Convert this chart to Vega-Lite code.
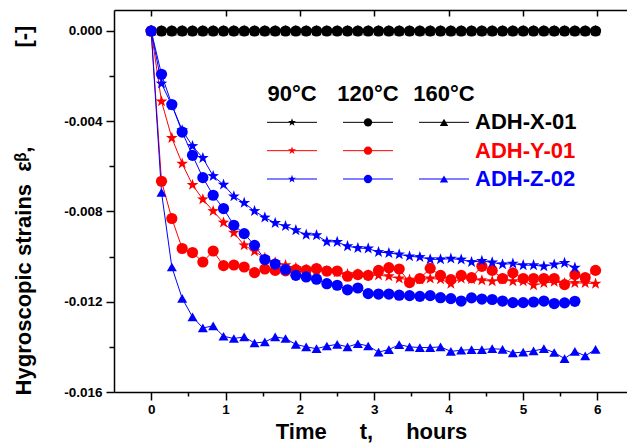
{
"$schema":"https://vega.github.io/schema/vega-lite/v6.json",
"width":513,"height":382,
"autosize":{"type":"none"},
"padding":{"left":114,"top":10,"right":0,"bottom":55},
"background":"white",
"config":{"view":{"stroke":null},"font":"Liberation Sans","axis":{"grid":false,"domainColor":"black","domainWidth":1.5,"tickColor":"black","tickWidth":1.5,"labelColor":"black","titleColor":"black","labelFont":"Liberation Sans","titleFont":"Liberation Sans","labelFontWeight":"bold","titleFontWeight":"bold","labelFontSize":13.5}},
"datasets":{"strain":[
{"t":0,"strain":0,"specimen":"ADH-X-01","temp":"90°C"},{"t":0.139,"strain":0,"specimen":"ADH-X-01","temp":"90°C"},{"t":0.278,"strain":0,"specimen":"ADH-X-01","temp":"90°C"},{"t":0.417,"strain":0,"specimen":"ADH-X-01","temp":"90°C"},{"t":0.556,"strain":0,"specimen":"ADH-X-01","temp":"90°C"},{"t":0.695,"strain":0,"specimen":"ADH-X-01","temp":"90°C"},{"t":0.834,"strain":0,"specimen":"ADH-X-01","temp":"90°C"},{"t":0.973,"strain":0,"specimen":"ADH-X-01","temp":"90°C"},{"t":1.112,"strain":0,"specimen":"ADH-X-01","temp":"90°C"},{"t":1.251,"strain":0,"specimen":"ADH-X-01","temp":"90°C"},{"t":1.39,"strain":0,"specimen":"ADH-X-01","temp":"90°C"},{"t":1.529,"strain":0,"specimen":"ADH-X-01","temp":"90°C"},{"t":1.668,"strain":0,"specimen":"ADH-X-01","temp":"90°C"},{"t":1.807,"strain":0,"specimen":"ADH-X-01","temp":"90°C"},{"t":1.946,"strain":0,"specimen":"ADH-X-01","temp":"90°C"},{"t":2.085,"strain":0,"specimen":"ADH-X-01","temp":"90°C"},{"t":2.224,"strain":0,"specimen":"ADH-X-01","temp":"90°C"},{"t":2.363,"strain":0,"specimen":"ADH-X-01","temp":"90°C"},{"t":2.502,"strain":0,"specimen":"ADH-X-01","temp":"90°C"},{"t":2.641,"strain":0,"specimen":"ADH-X-01","temp":"90°C"},{"t":2.78,"strain":0,"specimen":"ADH-X-01","temp":"90°C"},{"t":2.919,"strain":0,"specimen":"ADH-X-01","temp":"90°C"},{"t":3.058,"strain":0,"specimen":"ADH-X-01","temp":"90°C"},{"t":3.197,"strain":0,"specimen":"ADH-X-01","temp":"90°C"},{"t":3.336,"strain":0,"specimen":"ADH-X-01","temp":"90°C"},{"t":3.475,"strain":0,"specimen":"ADH-X-01","temp":"90°C"},{"t":3.614,"strain":0,"specimen":"ADH-X-01","temp":"90°C"},{"t":3.753,"strain":0,"specimen":"ADH-X-01","temp":"90°C"},{"t":3.892,"strain":0,"specimen":"ADH-X-01","temp":"90°C"},{"t":4.031,"strain":0,"specimen":"ADH-X-01","temp":"90°C"},{"t":4.17,"strain":0,"specimen":"ADH-X-01","temp":"90°C"},{"t":4.309,"strain":0,"specimen":"ADH-X-01","temp":"90°C"},{"t":4.448,"strain":0,"specimen":"ADH-X-01","temp":"90°C"},{"t":4.587,"strain":0,"specimen":"ADH-X-01","temp":"90°C"},{"t":4.726,"strain":0,"specimen":"ADH-X-01","temp":"90°C"},{"t":4.865,"strain":0,"specimen":"ADH-X-01","temp":"90°C"},{"t":5.004,"strain":0,"specimen":"ADH-X-01","temp":"90°C"},{"t":5.143,"strain":0,"specimen":"ADH-X-01","temp":"90°C"},{"t":5.282,"strain":0,"specimen":"ADH-X-01","temp":"90°C"},{"t":5.421,"strain":0,"specimen":"ADH-X-01","temp":"90°C"},{"t":5.56,"strain":0,"specimen":"ADH-X-01","temp":"90°C"},{"t":5.699,"strain":0,"specimen":"ADH-X-01","temp":"90°C"},{"t":5.838,"strain":0,"specimen":"ADH-X-01","temp":"90°C"},{"t":5.977,"strain":0,"specimen":"ADH-X-01","temp":"90°C"},
{"t":0,"strain":0,"specimen":"ADH-X-01","temp":"120°C"},{"t":0.139,"strain":0,"specimen":"ADH-X-01","temp":"120°C"},{"t":0.278,"strain":0,"specimen":"ADH-X-01","temp":"120°C"},{"t":0.417,"strain":0,"specimen":"ADH-X-01","temp":"120°C"},{"t":0.556,"strain":0,"specimen":"ADH-X-01","temp":"120°C"},{"t":0.695,"strain":0,"specimen":"ADH-X-01","temp":"120°C"},{"t":0.834,"strain":0,"specimen":"ADH-X-01","temp":"120°C"},{"t":0.973,"strain":0,"specimen":"ADH-X-01","temp":"120°C"},{"t":1.112,"strain":0,"specimen":"ADH-X-01","temp":"120°C"},{"t":1.251,"strain":0,"specimen":"ADH-X-01","temp":"120°C"},{"t":1.39,"strain":0,"specimen":"ADH-X-01","temp":"120°C"},{"t":1.529,"strain":0,"specimen":"ADH-X-01","temp":"120°C"},{"t":1.668,"strain":0,"specimen":"ADH-X-01","temp":"120°C"},{"t":1.807,"strain":0,"specimen":"ADH-X-01","temp":"120°C"},{"t":1.946,"strain":0,"specimen":"ADH-X-01","temp":"120°C"},{"t":2.085,"strain":0,"specimen":"ADH-X-01","temp":"120°C"},{"t":2.224,"strain":0,"specimen":"ADH-X-01","temp":"120°C"},{"t":2.363,"strain":0,"specimen":"ADH-X-01","temp":"120°C"},{"t":2.502,"strain":0,"specimen":"ADH-X-01","temp":"120°C"},{"t":2.641,"strain":0,"specimen":"ADH-X-01","temp":"120°C"},{"t":2.78,"strain":0,"specimen":"ADH-X-01","temp":"120°C"},{"t":2.919,"strain":0,"specimen":"ADH-X-01","temp":"120°C"},{"t":3.058,"strain":0,"specimen":"ADH-X-01","temp":"120°C"},{"t":3.197,"strain":0,"specimen":"ADH-X-01","temp":"120°C"},{"t":3.336,"strain":0,"specimen":"ADH-X-01","temp":"120°C"},{"t":3.475,"strain":0,"specimen":"ADH-X-01","temp":"120°C"},{"t":3.614,"strain":0,"specimen":"ADH-X-01","temp":"120°C"},{"t":3.753,"strain":0,"specimen":"ADH-X-01","temp":"120°C"},{"t":3.892,"strain":0,"specimen":"ADH-X-01","temp":"120°C"},{"t":4.031,"strain":0,"specimen":"ADH-X-01","temp":"120°C"},{"t":4.17,"strain":0,"specimen":"ADH-X-01","temp":"120°C"},{"t":4.309,"strain":0,"specimen":"ADH-X-01","temp":"120°C"},{"t":4.448,"strain":0,"specimen":"ADH-X-01","temp":"120°C"},{"t":4.587,"strain":0,"specimen":"ADH-X-01","temp":"120°C"},{"t":4.726,"strain":0,"specimen":"ADH-X-01","temp":"120°C"},{"t":4.865,"strain":0,"specimen":"ADH-X-01","temp":"120°C"},{"t":5.004,"strain":0,"specimen":"ADH-X-01","temp":"120°C"},{"t":5.143,"strain":0,"specimen":"ADH-X-01","temp":"120°C"},{"t":5.282,"strain":0,"specimen":"ADH-X-01","temp":"120°C"},{"t":5.421,"strain":0,"specimen":"ADH-X-01","temp":"120°C"},{"t":5.56,"strain":0,"specimen":"ADH-X-01","temp":"120°C"},{"t":5.699,"strain":0,"specimen":"ADH-X-01","temp":"120°C"},{"t":5.838,"strain":0,"specimen":"ADH-X-01","temp":"120°C"},{"t":5.977,"strain":0,"specimen":"ADH-X-01","temp":"120°C"},
{"t":0,"strain":0,"specimen":"ADH-X-01","temp":"160°C"},{"t":0.139,"strain":0,"specimen":"ADH-X-01","temp":"160°C"},{"t":0.278,"strain":0,"specimen":"ADH-X-01","temp":"160°C"},{"t":0.417,"strain":0,"specimen":"ADH-X-01","temp":"160°C"},{"t":0.556,"strain":0,"specimen":"ADH-X-01","temp":"160°C"},{"t":0.695,"strain":0,"specimen":"ADH-X-01","temp":"160°C"},{"t":0.834,"strain":0,"specimen":"ADH-X-01","temp":"160°C"},{"t":0.973,"strain":0,"specimen":"ADH-X-01","temp":"160°C"},{"t":1.112,"strain":0,"specimen":"ADH-X-01","temp":"160°C"},{"t":1.251,"strain":0,"specimen":"ADH-X-01","temp":"160°C"},{"t":1.39,"strain":0,"specimen":"ADH-X-01","temp":"160°C"},{"t":1.529,"strain":0,"specimen":"ADH-X-01","temp":"160°C"},{"t":1.668,"strain":0,"specimen":"ADH-X-01","temp":"160°C"},{"t":1.807,"strain":0,"specimen":"ADH-X-01","temp":"160°C"},{"t":1.946,"strain":0,"specimen":"ADH-X-01","temp":"160°C"},{"t":2.085,"strain":0,"specimen":"ADH-X-01","temp":"160°C"},{"t":2.224,"strain":0,"specimen":"ADH-X-01","temp":"160°C"},{"t":2.363,"strain":0,"specimen":"ADH-X-01","temp":"160°C"},{"t":2.502,"strain":0,"specimen":"ADH-X-01","temp":"160°C"},{"t":2.641,"strain":0,"specimen":"ADH-X-01","temp":"160°C"},{"t":2.78,"strain":0,"specimen":"ADH-X-01","temp":"160°C"},{"t":2.919,"strain":0,"specimen":"ADH-X-01","temp":"160°C"},{"t":3.058,"strain":0,"specimen":"ADH-X-01","temp":"160°C"},{"t":3.197,"strain":0,"specimen":"ADH-X-01","temp":"160°C"},{"t":3.336,"strain":0,"specimen":"ADH-X-01","temp":"160°C"},{"t":3.475,"strain":0,"specimen":"ADH-X-01","temp":"160°C"},{"t":3.614,"strain":0,"specimen":"ADH-X-01","temp":"160°C"},{"t":3.753,"strain":0,"specimen":"ADH-X-01","temp":"160°C"},{"t":3.892,"strain":0,"specimen":"ADH-X-01","temp":"160°C"},{"t":4.031,"strain":0,"specimen":"ADH-X-01","temp":"160°C"},{"t":4.17,"strain":0,"specimen":"ADH-X-01","temp":"160°C"},{"t":4.309,"strain":0,"specimen":"ADH-X-01","temp":"160°C"},{"t":4.448,"strain":0,"specimen":"ADH-X-01","temp":"160°C"},{"t":4.587,"strain":0,"specimen":"ADH-X-01","temp":"160°C"},{"t":4.726,"strain":0,"specimen":"ADH-X-01","temp":"160°C"},{"t":4.865,"strain":0,"specimen":"ADH-X-01","temp":"160°C"},{"t":5.004,"strain":0,"specimen":"ADH-X-01","temp":"160°C"},{"t":5.143,"strain":0,"specimen":"ADH-X-01","temp":"160°C"},{"t":5.282,"strain":0,"specimen":"ADH-X-01","temp":"160°C"},{"t":5.421,"strain":0,"specimen":"ADH-X-01","temp":"160°C"},{"t":5.56,"strain":0,"specimen":"ADH-X-01","temp":"160°C"},{"t":5.699,"strain":0,"specimen":"ADH-X-01","temp":"160°C"},{"t":5.838,"strain":0,"specimen":"ADH-X-01","temp":"160°C"},{"t":5.977,"strain":0,"specimen":"ADH-X-01","temp":"160°C"},
{"t":0,"strain":0,"specimen":"ADH-Y-01","temp":"90°C"},{"t":0.139,"strain":-0.00312,"specimen":"ADH-Y-01","temp":"90°C"},{"t":0.278,"strain":-0.00474,"specimen":"ADH-Y-01","temp":"90°C"},{"t":0.417,"strain":-0.00588,"specimen":"ADH-Y-01","temp":"90°C"},{"t":0.556,"strain":-0.00682,"specimen":"ADH-Y-01","temp":"90°C"},{"t":0.695,"strain":-0.00746,"specimen":"ADH-Y-01","temp":"90°C"},{"t":0.834,"strain":-0.00798,"specimen":"ADH-Y-01","temp":"90°C"},{"t":0.973,"strain":-0.00849,"specimen":"ADH-Y-01","temp":"90°C"},{"t":1.112,"strain":-0.00894,"specimen":"ADH-Y-01","temp":"90°C"},{"t":1.251,"strain":-0.0095,"specimen":"ADH-Y-01","temp":"90°C"},{"t":1.39,"strain":-0.00976,"specimen":"ADH-Y-01","temp":"90°C"},{"t":1.529,"strain":-0.01006,"specimen":"ADH-Y-01","temp":"90°C"},{"t":1.668,"strain":-0.01025,"specimen":"ADH-Y-01","temp":"90°C"},{"t":1.807,"strain":-0.01038,"specimen":"ADH-Y-01","temp":"90°C"},{"t":1.946,"strain":-0.0105,"specimen":"ADH-Y-01","temp":"90°C"},{"t":2.085,"strain":-0.01058,"specimen":"ADH-Y-01","temp":"90°C"},{"t":2.224,"strain":-0.0106,"specimen":"ADH-Y-01","temp":"90°C"},{"t":2.363,"strain":-0.01065,"specimen":"ADH-Y-01","temp":"90°C"},{"t":2.502,"strain":-0.0107,"specimen":"ADH-Y-01","temp":"90°C"},{"t":2.641,"strain":-0.01078,"specimen":"ADH-Y-01","temp":"90°C"},{"t":2.78,"strain":-0.01078,"specimen":"ADH-Y-01","temp":"90°C"},{"t":2.919,"strain":-0.01083,"specimen":"ADH-Y-01","temp":"90°C"},{"t":3.058,"strain":-0.01083,"specimen":"ADH-Y-01","temp":"90°C"},{"t":3.197,"strain":-0.01087,"specimen":"ADH-Y-01","temp":"90°C"},{"t":3.336,"strain":-0.01097,"specimen":"ADH-Y-01","temp":"90°C"},{"t":3.475,"strain":-0.01102,"specimen":"ADH-Y-01","temp":"90°C"},{"t":3.614,"strain":-0.01102,"specimen":"ADH-Y-01","temp":"90°C"},{"t":3.753,"strain":-0.01097,"specimen":"ADH-Y-01","temp":"90°C"},{"t":3.892,"strain":-0.011,"specimen":"ADH-Y-01","temp":"90°C"},{"t":4.031,"strain":-0.0112,"specimen":"ADH-Y-01","temp":"90°C"},{"t":4.17,"strain":-0.01097,"specimen":"ADH-Y-01","temp":"90°C"},{"t":4.309,"strain":-0.011,"specimen":"ADH-Y-01","temp":"90°C"},{"t":4.448,"strain":-0.01105,"specimen":"ADH-Y-01","temp":"90°C"},{"t":4.587,"strain":-0.01109,"specimen":"ADH-Y-01","temp":"90°C"},{"t":4.726,"strain":-0.011,"specimen":"ADH-Y-01","temp":"90°C"},{"t":4.865,"strain":-0.01109,"specimen":"ADH-Y-01","temp":"90°C"},{"t":5.004,"strain":-0.01109,"specimen":"ADH-Y-01","temp":"90°C"},{"t":5.143,"strain":-0.01127,"specimen":"ADH-Y-01","temp":"90°C"},{"t":5.282,"strain":-0.01117,"specimen":"ADH-Y-01","temp":"90°C"},{"t":5.421,"strain":-0.01112,"specimen":"ADH-Y-01","temp":"90°C"},{"t":5.56,"strain":-0.01117,"specimen":"ADH-Y-01","temp":"90°C"},{"t":5.699,"strain":-0.01117,"specimen":"ADH-Y-01","temp":"90°C"},{"t":5.838,"strain":-0.01117,"specimen":"ADH-Y-01","temp":"90°C"},{"t":5.977,"strain":-0.0112,"specimen":"ADH-Y-01","temp":"90°C"},
{"t":0,"strain":0,"specimen":"ADH-Y-01","temp":"120°C"},{"t":0.139,"strain":-0.00666,"specimen":"ADH-Y-01","temp":"120°C"},{"t":0.278,"strain":-0.00831,"specimen":"ADH-Y-01","temp":"120°C"},{"t":0.417,"strain":-0.00964,"specimen":"ADH-Y-01","temp":"120°C"},{"t":0.556,"strain":-0.00982,"specimen":"ADH-Y-01","temp":"120°C"},{"t":0.695,"strain":-0.01024,"specimen":"ADH-Y-01","temp":"120°C"},{"t":0.834,"strain":-0.00975,"specimen":"ADH-Y-01","temp":"120°C"},{"t":0.973,"strain":-0.0104,"specimen":"ADH-Y-01","temp":"120°C"},{"t":1.112,"strain":-0.01037,"specimen":"ADH-Y-01","temp":"120°C"},{"t":1.251,"strain":-0.01046,"specimen":"ADH-Y-01","temp":"120°C"},{"t":1.39,"strain":-0.01071,"specimen":"ADH-Y-01","temp":"120°C"},{"t":1.529,"strain":-0.01055,"specimen":"ADH-Y-01","temp":"120°C"},{"t":1.668,"strain":-0.01061,"specimen":"ADH-Y-01","temp":"120°C"},{"t":1.807,"strain":-0.01063,"specimen":"ADH-Y-01","temp":"120°C"},{"t":1.946,"strain":-0.01058,"specimen":"ADH-Y-01","temp":"120°C"},{"t":2.085,"strain":-0.0106,"specimen":"ADH-Y-01","temp":"120°C"},{"t":2.224,"strain":-0.01053,"specimen":"ADH-Y-01","temp":"120°C"},{"t":2.363,"strain":-0.01064,"specimen":"ADH-Y-01","temp":"120°C"},{"t":2.502,"strain":-0.01064,"specimen":"ADH-Y-01","temp":"120°C"},{"t":2.641,"strain":-0.01087,"specimen":"ADH-Y-01","temp":"120°C"},{"t":2.78,"strain":-0.0108,"specimen":"ADH-Y-01","temp":"120°C"},{"t":2.919,"strain":-0.01083,"specimen":"ADH-Y-01","temp":"120°C"},{"t":3.058,"strain":-0.01061,"specimen":"ADH-Y-01","temp":"120°C"},{"t":3.197,"strain":-0.01049,"specimen":"ADH-Y-01","temp":"120°C"},{"t":3.336,"strain":-0.01055,"specimen":"ADH-Y-01","temp":"120°C"},{"t":3.475,"strain":-0.01115,"specimen":"ADH-Y-01","temp":"120°C"},{"t":3.614,"strain":-0.01097,"specimen":"ADH-Y-01","temp":"120°C"},{"t":3.753,"strain":-0.01052,"specimen":"ADH-Y-01","temp":"120°C"},{"t":3.892,"strain":-0.01083,"specimen":"ADH-Y-01","temp":"120°C"},{"t":4.031,"strain":-0.01102,"specimen":"ADH-Y-01","temp":"120°C"},{"t":4.17,"strain":-0.01083,"specimen":"ADH-Y-01","temp":"120°C"},{"t":4.309,"strain":-0.01093,"specimen":"ADH-Y-01","temp":"120°C"},{"t":4.448,"strain":-0.01043,"specimen":"ADH-Y-01","temp":"120°C"},{"t":4.587,"strain":-0.01061,"specimen":"ADH-Y-01","temp":"120°C"},{"t":4.726,"strain":-0.01097,"specimen":"ADH-Y-01","temp":"120°C"},{"t":4.865,"strain":-0.01072,"specimen":"ADH-Y-01","temp":"120°C"},{"t":5.004,"strain":-0.01097,"specimen":"ADH-Y-01","temp":"120°C"},{"t":5.143,"strain":-0.01097,"specimen":"ADH-Y-01","temp":"120°C"},{"t":5.282,"strain":-0.01097,"specimen":"ADH-Y-01","temp":"120°C"},{"t":5.421,"strain":-0.01097,"specimen":"ADH-Y-01","temp":"120°C"},{"t":5.56,"strain":-0.01124,"specimen":"ADH-Y-01","temp":"120°C"},{"t":5.699,"strain":-0.0108,"specimen":"ADH-Y-01","temp":"120°C"},{"t":5.838,"strain":-0.01093,"specimen":"ADH-Y-01","temp":"120°C"},{"t":5.977,"strain":-0.01061,"specimen":"ADH-Y-01","temp":"120°C"},
{"t":0,"strain":0,"specimen":"ADH-Z-02","temp":"90°C"},{"t":0.139,"strain":-0.00233,"specimen":"ADH-Z-02","temp":"90°C"},{"t":0.278,"strain":-0.00329,"specimen":"ADH-Z-02","temp":"90°C"},{"t":0.417,"strain":-0.0044,"specimen":"ADH-Z-02","temp":"90°C"},{"t":0.556,"strain":-0.0051,"specimen":"ADH-Z-02","temp":"90°C"},{"t":0.695,"strain":-0.00563,"specimen":"ADH-Z-02","temp":"90°C"},{"t":0.834,"strain":-0.00643,"specimen":"ADH-Z-02","temp":"90°C"},{"t":0.973,"strain":-0.00681,"specimen":"ADH-Z-02","temp":"90°C"},{"t":1.112,"strain":-0.00733,"specimen":"ADH-Z-02","temp":"90°C"},{"t":1.251,"strain":-0.00762,"specimen":"ADH-Z-02","temp":"90°C"},{"t":1.39,"strain":-0.00798,"specimen":"ADH-Z-02","temp":"90°C"},{"t":1.529,"strain":-0.00827,"specimen":"ADH-Z-02","temp":"90°C"},{"t":1.668,"strain":-0.00851,"specimen":"ADH-Z-02","temp":"90°C"},{"t":1.807,"strain":-0.00865,"specimen":"ADH-Z-02","temp":"90°C"},{"t":1.946,"strain":-0.00883,"specimen":"ADH-Z-02","temp":"90°C"},{"t":2.085,"strain":-0.00903,"specimen":"ADH-Z-02","temp":"90°C"},{"t":2.224,"strain":-0.00905,"specimen":"ADH-Z-02","temp":"90°C"},{"t":2.363,"strain":-0.00934,"specimen":"ADH-Z-02","temp":"90°C"},{"t":2.502,"strain":-0.00935,"specimen":"ADH-Z-02","temp":"90°C"},{"t":2.641,"strain":-0.00954,"specimen":"ADH-Z-02","temp":"90°C"},{"t":2.78,"strain":-0.00962,"specimen":"ADH-Z-02","temp":"90°C"},{"t":2.919,"strain":-0.00964,"specimen":"ADH-Z-02","temp":"90°C"},{"t":3.058,"strain":-0.0098,"specimen":"ADH-Z-02","temp":"90°C"},{"t":3.197,"strain":-0.00984,"specimen":"ADH-Z-02","temp":"90°C"},{"t":3.336,"strain":-0.0099,"specimen":"ADH-Z-02","temp":"90°C"},{"t":3.475,"strain":-0.00999,"specimen":"ADH-Z-02","temp":"90°C"},{"t":3.614,"strain":-0.01002,"specimen":"ADH-Z-02","temp":"90°C"},{"t":3.753,"strain":-0.01012,"specimen":"ADH-Z-02","temp":"90°C"},{"t":3.892,"strain":-0.01012,"specimen":"ADH-Z-02","temp":"90°C"},{"t":4.031,"strain":-0.01009,"specimen":"ADH-Z-02","temp":"90°C"},{"t":4.17,"strain":-0.01013,"specimen":"ADH-Z-02","temp":"90°C"},{"t":4.309,"strain":-0.01024,"specimen":"ADH-Z-02","temp":"90°C"},{"t":4.448,"strain":-0.01019,"specimen":"ADH-Z-02","temp":"90°C"},{"t":4.587,"strain":-0.01026,"specimen":"ADH-Z-02","temp":"90°C"},{"t":4.726,"strain":-0.01034,"specimen":"ADH-Z-02","temp":"90°C"},{"t":4.865,"strain":-0.01031,"specimen":"ADH-Z-02","temp":"90°C"},{"t":5.004,"strain":-0.01038,"specimen":"ADH-Z-02","temp":"90°C"},{"t":5.143,"strain":-0.01038,"specimen":"ADH-Z-02","temp":"90°C"},{"t":5.282,"strain":-0.01043,"specimen":"ADH-Z-02","temp":"90°C"},{"t":5.421,"strain":-0.01035,"specimen":"ADH-Z-02","temp":"90°C"},{"t":5.56,"strain":-0.01028,"specimen":"ADH-Z-02","temp":"90°C"},{"t":5.699,"strain":-0.01049,"specimen":"ADH-Z-02","temp":"90°C"},
{"t":0,"strain":0,"specimen":"ADH-Z-02","temp":"120°C"},{"t":0.139,"strain":-0.00192,"specimen":"ADH-Z-02","temp":"120°C"},{"t":0.278,"strain":-0.00326,"specimen":"ADH-Z-02","temp":"120°C"},{"t":0.417,"strain":-0.00448,"specimen":"ADH-Z-02","temp":"120°C"},{"t":0.556,"strain":-0.00551,"specimen":"ADH-Z-02","temp":"120°C"},{"t":0.695,"strain":-0.0065,"specimen":"ADH-Z-02","temp":"120°C"},{"t":0.834,"strain":-0.00728,"specimen":"ADH-Z-02","temp":"120°C"},{"t":0.973,"strain":-0.00787,"specimen":"ADH-Z-02","temp":"120°C"},{"t":1.112,"strain":-0.00861,"specimen":"ADH-Z-02","temp":"120°C"},{"t":1.251,"strain":-0.00898,"specimen":"ADH-Z-02","temp":"120°C"},{"t":1.39,"strain":-0.0095,"specimen":"ADH-Z-02","temp":"120°C"},{"t":1.529,"strain":-0.01013,"specimen":"ADH-Z-02","temp":"120°C"},{"t":1.668,"strain":-0.01033,"specimen":"ADH-Z-02","temp":"120°C"},{"t":1.807,"strain":-0.01057,"specimen":"ADH-Z-02","temp":"120°C"},{"t":1.946,"strain":-0.01083,"specimen":"ADH-Z-02","temp":"120°C"},{"t":2.085,"strain":-0.0109,"specimen":"ADH-Z-02","temp":"120°C"},{"t":2.224,"strain":-0.011,"specimen":"ADH-Z-02","temp":"120°C"},{"t":2.363,"strain":-0.0112,"specimen":"ADH-Z-02","temp":"120°C"},{"t":2.502,"strain":-0.01127,"specimen":"ADH-Z-02","temp":"120°C"},{"t":2.641,"strain":-0.01147,"specimen":"ADH-Z-02","temp":"120°C"},{"t":2.78,"strain":-0.01139,"specimen":"ADH-Z-02","temp":"120°C"},{"t":2.919,"strain":-0.01164,"specimen":"ADH-Z-02","temp":"120°C"},{"t":3.058,"strain":-0.01166,"specimen":"ADH-Z-02","temp":"120°C"},{"t":3.197,"strain":-0.01166,"specimen":"ADH-Z-02","temp":"120°C"},{"t":3.336,"strain":-0.01171,"specimen":"ADH-Z-02","temp":"120°C"},{"t":3.475,"strain":-0.01173,"specimen":"ADH-Z-02","temp":"120°C"},{"t":3.614,"strain":-0.01176,"specimen":"ADH-Z-02","temp":"120°C"},{"t":3.753,"strain":-0.01173,"specimen":"ADH-Z-02","temp":"120°C"},{"t":3.892,"strain":-0.01182,"specimen":"ADH-Z-02","temp":"120°C"},{"t":4.031,"strain":-0.01186,"specimen":"ADH-Z-02","temp":"120°C"},{"t":4.17,"strain":-0.01197,"specimen":"ADH-Z-02","temp":"120°C"},{"t":4.309,"strain":-0.01183,"specimen":"ADH-Z-02","temp":"120°C"},{"t":4.448,"strain":-0.01188,"specimen":"ADH-Z-02","temp":"120°C"},{"t":4.587,"strain":-0.0119,"specimen":"ADH-Z-02","temp":"120°C"},{"t":4.726,"strain":-0.01197,"specimen":"ADH-Z-02","temp":"120°C"},{"t":4.865,"strain":-0.01204,"specimen":"ADH-Z-02","temp":"120°C"},{"t":5.004,"strain":-0.01204,"specimen":"ADH-Z-02","temp":"120°C"},{"t":5.143,"strain":-0.01201,"specimen":"ADH-Z-02","temp":"120°C"},{"t":5.282,"strain":-0.01197,"specimen":"ADH-Z-02","temp":"120°C"},{"t":5.421,"strain":-0.01208,"specimen":"ADH-Z-02","temp":"120°C"},{"t":5.56,"strain":-0.01205,"specimen":"ADH-Z-02","temp":"120°C"},{"t":5.699,"strain":-0.01198,"specimen":"ADH-Z-02","temp":"120°C"},
{"t":0,"strain":0,"specimen":"ADH-Z-02","temp":"160°C"},{"t":0.139,"strain":-0.00715,"specimen":"ADH-Z-02","temp":"160°C"},{"t":0.278,"strain":-0.01046,"specimen":"ADH-Z-02","temp":"160°C"},{"t":0.417,"strain":-0.01185,"specimen":"ADH-Z-02","temp":"160°C"},{"t":0.556,"strain":-0.01267,"specimen":"ADH-Z-02","temp":"160°C"},{"t":0.695,"strain":-0.01316,"specimen":"ADH-Z-02","temp":"160°C"},{"t":0.834,"strain":-0.01307,"specimen":"ADH-Z-02","temp":"160°C"},{"t":0.973,"strain":-0.01353,"specimen":"ADH-Z-02","temp":"160°C"},{"t":1.112,"strain":-0.01363,"specimen":"ADH-Z-02","temp":"160°C"},{"t":1.251,"strain":-0.01356,"specimen":"ADH-Z-02","temp":"160°C"},{"t":1.39,"strain":-0.01383,"specimen":"ADH-Z-02","temp":"160°C"},{"t":1.529,"strain":-0.01378,"specimen":"ADH-Z-02","temp":"160°C"},{"t":1.668,"strain":-0.01356,"specimen":"ADH-Z-02","temp":"160°C"},{"t":1.807,"strain":-0.01363,"specimen":"ADH-Z-02","temp":"160°C"},{"t":1.946,"strain":-0.01389,"specimen":"ADH-Z-02","temp":"160°C"},{"t":2.085,"strain":-0.014,"specimen":"ADH-Z-02","temp":"160°C"},{"t":2.224,"strain":-0.01408,"specimen":"ADH-Z-02","temp":"160°C"},{"t":2.363,"strain":-0.01396,"specimen":"ADH-Z-02","temp":"160°C"},{"t":2.502,"strain":-0.01389,"specimen":"ADH-Z-02","temp":"160°C"},{"t":2.641,"strain":-0.014,"specimen":"ADH-Z-02","temp":"160°C"},{"t":2.78,"strain":-0.01386,"specimen":"ADH-Z-02","temp":"160°C"},{"t":2.919,"strain":-0.01396,"specimen":"ADH-Z-02","temp":"160°C"},{"t":3.058,"strain":-0.01423,"specimen":"ADH-Z-02","temp":"160°C"},{"t":3.197,"strain":-0.01412,"specimen":"ADH-Z-02","temp":"160°C"},{"t":3.336,"strain":-0.0139,"specimen":"ADH-Z-02","temp":"160°C"},{"t":3.475,"strain":-0.014,"specimen":"ADH-Z-02","temp":"160°C"},{"t":3.614,"strain":-0.01403,"specimen":"ADH-Z-02","temp":"160°C"},{"t":3.753,"strain":-0.01403,"specimen":"ADH-Z-02","temp":"160°C"},{"t":3.892,"strain":-0.014,"specimen":"ADH-Z-02","temp":"160°C"},{"t":4.031,"strain":-0.0142,"specimen":"ADH-Z-02","temp":"160°C"},{"t":4.17,"strain":-0.01415,"specimen":"ADH-Z-02","temp":"160°C"},{"t":4.309,"strain":-0.01412,"specimen":"ADH-Z-02","temp":"160°C"},{"t":4.448,"strain":-0.01412,"specimen":"ADH-Z-02","temp":"160°C"},{"t":4.587,"strain":-0.01408,"specimen":"ADH-Z-02","temp":"160°C"},{"t":4.726,"strain":-0.01411,"specimen":"ADH-Z-02","temp":"160°C"},{"t":4.865,"strain":-0.01427,"specimen":"ADH-Z-02","temp":"160°C"},{"t":5.004,"strain":-0.01423,"specimen":"ADH-Z-02","temp":"160°C"},{"t":5.143,"strain":-0.01418,"specimen":"ADH-Z-02","temp":"160°C"},{"t":5.282,"strain":-0.01408,"specimen":"ADH-Z-02","temp":"160°C"},{"t":5.421,"strain":-0.01425,"specimen":"ADH-Z-02","temp":"160°C"},{"t":5.56,"strain":-0.01452,"specimen":"ADH-Z-02","temp":"160°C"},{"t":5.699,"strain":-0.0142,"specimen":"ADH-Z-02","temp":"160°C"},{"t":5.838,"strain":-0.0144,"specimen":"ADH-Z-02","temp":"160°C"},{"t":5.977,"strain":-0.01411,"specimen":"ADH-Z-02","temp":"160°C"}
],
"legend":[
{"temp":"90°C","specimen":"ADH-X-01"},{"temp":"120°C","specimen":"ADH-X-01"},{"temp":"160°C","specimen":"ADH-X-01"},
{"temp":"90°C","specimen":"ADH-Y-01"},{"temp":"120°C","specimen":"ADH-Y-01"},
{"temp":"90°C","specimen":"ADH-Z-02"},{"temp":"120°C","specimen":"ADH-Z-02"},{"temp":"160°C","specimen":"ADH-Z-02"}
],
"headers":[{"temp":"90°C"},{"temp":"120°C"},{"temp":"160°C"}],
"labels":[{"specimen":"ADH-X-01"},{"specimen":"ADH-Y-01"},{"specimen":"ADH-Z-02"}]
},
"layer":[
{"data":{"name":"strain"},
 "mark":{"type":"line","strokeWidth":1},
 "encoding":{
  "x":{"field":"t","type":"quantitative","scale":{"domain":[-0.5,6.4],"nice":false,"zero":false},
   "axis":{"orient":"bottom","values":[0,0.5,1,1.5,2,2.5,3,3.5,4,4.5,5,5.5,6],"tickSize":{"condition":{"test":"datum.value % 1 === 0","value":8},"value":4},"labelExpr":"datum.value % 1 === 0 ? format(datum.value, 'd') : ''","labelPadding":2,"labelFlush":false,"title":"Time\u2003\u2002t,\u2003\u2002hours","titleFontSize":22,"titlePadding":6,"titleX":257}},
  "y":{"field":"strain","type":"quantitative","scale":{"domain":[-0.016,0.00093],"nice":false,"zero":false},
   "axis":{"orient":"left","values":[0,-0.002,-0.004,-0.006,-0.008,-0.01,-0.012,-0.014,-0.016],"tickSize":{"condition":{"test":"abs(round(datum.value*1000)) % 4 === 0","value":8},"value":5},"labelExpr":"abs(round(datum.value*1000)) % 4 === 0 ? (datum.value < 0 ? '-' : '') + format(abs(datum.value), '.3f') : ''","labelPadding":4,"labelFlush":false,"title":"Hygroscopic strains\u00a0\u00a0εᵝ,\u2003\u2003\u2003\u2003\u2002[-]","titleFontSize":22,"titlePadding":28,"titleY":200}},
  "color":{"field":"specimen","type":"nominal","scale":{"domain":["ADH-X-01","ADH-Y-01","ADH-Z-02"],"range":["#000000","#ff0000","#0000ff"]},"legend":null},
  "detail":{"field":"temp","type":"nominal"}
 }},
{"data":{"name":"strain"},
 "mark":{"type":"point","filled":true,"opacity":1,"strokeWidth":0},
 "encoding":{
  "x":{"field":"t","type":"quantitative","scale":{"domain":[-0.5,6.4],"nice":false,"zero":false},
   "axis":{"orient":"top","values":[0,1,2,3,4,5,6],"tickSize":-6,"labels":false,"title":null}},
  "y":{"field":"strain","type":"quantitative","scale":{"domain":[-0.016,0.00093],"nice":false,"zero":false},"axis":null},
  "color":{"field":"specimen","type":"nominal","scale":{"domain":["ADH-X-01","ADH-Y-01","ADH-Z-02"],"range":["#000000","#ff0000","#0000ff"]},"legend":null},
  "shape":{"field":"temp","type":"nominal","scale":{"domain":["90°C","120°C","160°C"],"range":["M0,-1L0.235,-0.324L0.951,-0.309L0.38,0.124L0.588,0.809L0,0.4L-0.588,0.809L-0.38,0.124L-0.951,-0.309L-0.235,-0.324Z","circle","triangle-up"]},"legend":null},
  "size":{"field":"temp","type":"ordinal","scale":{"domain":["90°C","120°C","160°C"],"range":[150,100,100]},"legend":null}
 }},
{"layer":[
 {"data":{"name":"legend"},
  "mark":{"type":"rule","strokeWidth":1,"xOffset":-25,"x2Offset":25},
  "encoding":{
   "x":{"field":"temp","type":"ordinal","scale":{"type":"point","domain":["90°C","120°C","160°C"],"range":[178,330],"padding":0},"axis":null},
   "x2":{"field":"temp"},
   "y":{"field":"specimen","type":"ordinal","scale":{"type":"point","domain":["hdr","ADH-X-01","ADH-Y-01","ADH-Z-02"],"range":[84,169],"padding":0},"axis":null},
   "color":{"field":"specimen","type":"nominal","legend":null}
  }},
 {"data":{"name":"legend"},
  "mark":{"type":"point","filled":true,"opacity":1,"strokeWidth":0,"size":70},
  "encoding":{
   "x":{"field":"temp","type":"ordinal","scale":{"type":"point","domain":["90°C","120°C","160°C"],"range":[178,330],"padding":0},"axis":null},
   "y":{"field":"specimen","type":"ordinal","scale":{"type":"point","domain":["hdr","ADH-X-01","ADH-Y-01","ADH-Z-02"],"range":[84,169],"padding":0},"axis":null},
   "color":{"field":"specimen","type":"nominal","legend":null},
   "shape":{"field":"temp","type":"nominal","legend":null}
  }},
 {"data":{"name":"headers"},
  "mark":{"type":"text","font":"Liberation Sans","fontWeight":"bold","fontSize":22,"color":"black","baseline":"middle","align":"center"},
  "encoding":{
   "x":{"field":"temp","type":"ordinal","scale":{"type":"point","domain":["90°C","120°C","160°C"],"range":[178,330],"padding":0},"axis":null},
   "y":{"datum":"hdr","type":"ordinal","scale":{"type":"point","domain":["hdr","ADH-X-01","ADH-Y-01","ADH-Z-02"],"range":[84,169],"padding":0},"axis":null},
   "text":{"field":"temp"}
  }},
 {"data":{"name":"labels"},
  "mark":{"type":"text","font":"Liberation Sans","fontWeight":"bold","fontSize":22,"baseline":"middle","align":"left","dx":31},
  "encoding":{
   "x":{"datum":"160°C","type":"ordinal","scale":{"type":"point","domain":["90°C","120°C","160°C"],"range":[178,330],"padding":0},"axis":null},
   "y":{"field":"specimen","type":"ordinal","scale":{"type":"point","domain":["hdr","ADH-X-01","ADH-Y-01","ADH-Z-02"],"range":[84,169],"padding":0},"axis":null},
   "color":{"field":"specimen","type":"nominal","legend":null},
   "text":{"field":"specimen"}
  }}
 ]}
],
"resolve":{"scale":{"x":"independent","y":"independent"}}
}
